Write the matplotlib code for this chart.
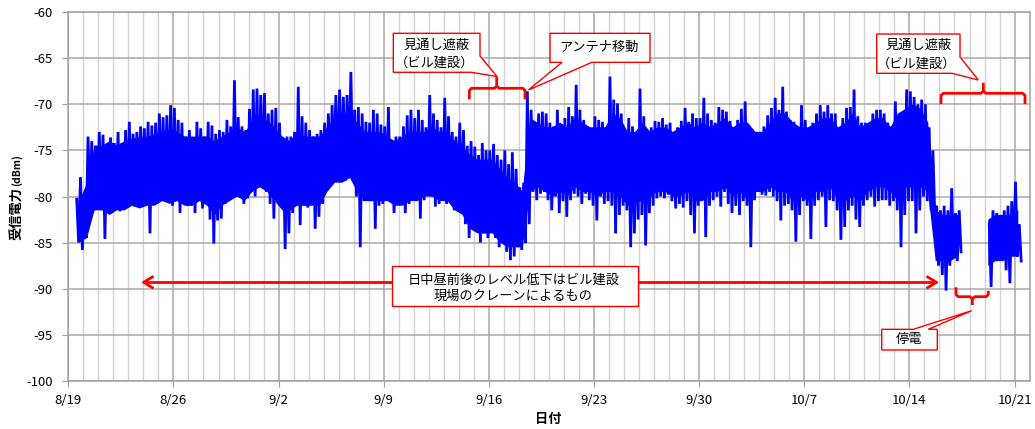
import numpy as np
import matplotlib
matplotlib.use("Agg")
import matplotlib.pyplot as plt
from matplotlib.lines import Line2D
from matplotlib.patches import Polygon

plt.rcParams['font.family'] = ['Noto Sans CJK JP', 'DejaVu Sans']

NA = np.nan
# ---- data: 6-hour slot peaks (hi) and dips (lo) of received power [dBm]
# first slot = 8/19 12:00, slot length 0.25 day
hi_aug = [-80.3, -77.9,
          -80.5, -73.5, -74.0, -74.5,  -73.0, -73.3, -74.5, -73.6,  -74.2, -73.0, -74.2, -72.8,
          -71.9, -73.2, -73.0, -72.4,  -72.6, -71.9, -72.3, -72.0,  -71.0, -71.4, -71.2, -70.1,
          -70.4, -71.7, -72.0, -73.5,  -72.8, -73.7, -71.9, -72.6,  -73.5, -71.9, -72.3, -73.2,
          -72.8, -73.0, -71.7, -72.4,  -67.4, -71.4, -72.4, -72.8,  -70.5, -68.4, -68.3, -69.0]
lo_aug = [-85.0, -85.8,
          -84.5, -81.0, -81.5, -80.5,  -80.5, -84.6, -81.8, -81.3,  -80.5, -81.6, -81.2, -80.4,
          -80.0, -81.1, -81.0, -79.8,  -80.4, -84.0, -80.5, -79.3,  -79.0, -79.5, -80.0, -81.0,
          -80.4, -81.8, -80.0, -81.0,  -81.0, -81.8, -80.0, -81.3,  -80.2, -82.5, -85.1, -82.6,
          -82.4, -80.8, -80.4, -79.8,  -80.0, -79.7, -80.8, -80.2,  -79.5, -80.0, -79.0, -78.5]
hi_sep_a = [-68.8, -71.0, -70.6, -70.4,  -72.0, -74.2, -73.5, -73.5,  -73.0, -68.1, -71.3, -72.0,
            -72.8, -73.5, -73.2, -72.8,  -72.0, -71.0, -70.1, -69.0,  -68.4, -69.2, -69.0, -66.5,
            -70.6, -70.3, -71.0, -71.9,  -72.0, -70.6, -71.0, -72.2,  -72.4, -70.3, -75.0, -73.5,
            -73.5, -72.4, -71.2, -70.6,  -71.5, -70.6, -71.7, -72.5,  -69.0, -71.0, -71.7, -72.5,
            -69.3, -71.3, -73.0, -73.5,  -72.0, -72.8, -74.5, -74.0,  -74.6, -75.5, -74.2, -75.0]
lo_sep_a = [-79.5, -80.8, -82.4, -80.0,  -81.0, -85.7, -84.0, -81.8,  -80.5, -83.1, -81.0, -81.2,
            -80.5, -83.5, -82.2, -80.8,  -79.3, -78.5, -77.5, -78.0,  -78.0, -78.3, -77.5, -78.0,
            -80.0, -85.5, -80.5, -80.4,  -80.5, -83.5, -81.0, -80.8,  -79.7, -80.5, -81.8, -80.5,
            -80.5, -81.8, -80.8, -80.2,  -80.0, -82.4, -80.4, -79.5,  -80.0, -81.1, -80.8, -80.0,
            -80.8, -80.2, -81.5, -80.5,  -81.0, -83.0, -84.5, -82.5,  -83.0, -85.0, -84.0, -84.5]
hi_sep_b = [-75.0, -74.3, -75.5, -76.0,  -75.0, -76.5, -75.2, -77.0,  -79.0, -78.5, -68.6, -70.6,
            -72.8, -71.0, -70.8, -71.0,  -72.0, -72.4, -70.6, -72.5,  -71.5, -70.3, -71.3, -67.9,
            -70.6, -71.7, -72.4, -72.8,  -71.3, -71.7, -71.9, -72.5,  -67.0, -69.5, -69.9, -71.0,
            -72.8, -71.5, -72.4, -73.0,  -68.3, -71.3, -73.2, -72.5,  -71.8, -71.9, -71.5, -72.2,
            -72.0, -73.5, -72.5, -71.8,  -70.4, -71.9, -71.0, -71.5,  -71.5, -69.3, -71.0, -71.7]
lo_sep_b = [-83.5, -84.5, -85.5, -85.0,  -86.0, -86.9, -86.5, -85.5,  -85.8, -85.0, -83.0, -79.5,
            -80.4, -79.7, -79.5, -80.4,  -81.5, -80.0, -81.8, -80.5,  -82.2, -80.4, -79.7, -80.0,
            -80.8, -79.7, -80.4, -81.0,  -82.6, -80.0, -80.8, -80.5,  -81.0, -84.0, -82.0, -81.0,
            -81.5, -85.5, -84.0, -82.5,  -82.0, -85.3, -81.8, -81.0,  -80.2, -80.0, -80.2, -79.8,
            -80.5, -81.3, -80.8, -81.2,  -80.5, -82.0, -84.0, -81.0,  -80.0, -84.4, -81.0, -80.4]
hi_oct_a = [-72.0, -70.3, -70.6, -70.8,  -71.8, -72.5, -71.7, -70.5,  -69.7, -72.4, -73.5, -73.0,
            -73.0, -72.4, -71.2, -70.4,  -69.3, -70.6, -68.1, -70.8,  -71.7, -71.9, -72.5, -70.1,
            -71.7, -72.8, -72.0, -71.0,  -70.1, -70.8, -70.1, -71.0,  -71.0, -73.0, -71.5, -70.4,
            -70.3, -68.4, -71.3, -72.0,  -72.0, -72.4, -71.0, -70.6,  -70.6, -71.0, -72.0, -72.4,
            -69.7, -71.0, -71.5, -68.4,  -68.6, -69.2, -70.0, -69.5,  -70.0, -72.5, -75.0, -81.0]
lo_oct_a = [-80.0, -81.1, -79.5, -80.8,  -81.8, -81.0, -82.0, -80.5,  -81.0, -85.5, -80.4, -79.5,
            -79.8, -79.9, -79.5, -80.0,  -80.5, -82.6, -81.0, -80.8,  -81.5, -84.9, -82.0, -80.5,
            -81.0, -84.6, -81.0, -80.4,  -80.0, -83.3, -80.4, -80.5,  -81.5, -84.7, -83.3, -81.5,
            -81.0, -82.5, -83.3, -81.0,  -80.4, -80.0, -81.1, -80.5,  -80.4, -80.4, -81.0, -80.5,
            -81.5, -85.5, -82.0, -80.5,  -80.5, -84.0, -81.5, -80.0,  -80.5, -81.5, -82.0, -87.5]
hi_oct_b = [-81.5, -81.0, -81.5, -79.1,  -81.8, -81.5, NA, NA,  NA, NA, NA, NA,
            NA, -83.0, -81.5, -81.8,  -82.0, -81.5, -81.0, -80.5,  -78.4, -83.0]
lo_oct_b = [-88.5, -90.2, -87.5, -86.5,  -87.0, -86.0, NA, NA,  NA, NA, NA, NA,
            NA, -89.8, -86.0, -85.5,  -86.0, -88.0, -89.4, -86.5,  -86.5, -87.0]

# dense core of the band (top / bottom), one value per half day, first = 8/19 12:00
core_top_aug = [-80.5, -78.5, -74.5, -74.5, -74.0, -74.5, -74.0, -73.8, -73.5, -73.5, -73.3,
                -73.0, -72.8, -73.0, -73.5, -73.5, -73.5, -73.5, -74.0, -73.5, -73.0, -72.5,
                -73.0, -72.0, -71.5]
core_bot_aug = [-85.0, -84.5, -81.5, -81.5, -82.0, -81.5, -81.5, -81.0, -81.3, -81.0, -81.0,
                -80.5, -80.8, -80.5, -81.0, -81.0, -80.5, -81.0, -82.0, -81.0, -80.5, -80.0,
                -80.5, -79.5, -79.0]
core_top_sep = [-71.8, -72.5, -73.5, -74.0, -73.0, -73.5, -73.5, -73.5, -72.5, -71.5,
                -71.0, -71.0, -72.0, -73.0, -73.0, -73.0, -73.5, -74.0, -73.5, -73.0,
                -73.0, -73.0, -72.5, -73.0, -73.0, -74.0, -74.5, -75.5, -76.0, -76.0,
                -76.0, -77.0, -78.0, -78.5, -79.5, -71.5, -72.0, -72.5, -72.5, -72.0,
                -72.5, -71.5, -72.0, -72.5, -72.5, -72.5, -71.0, -71.5, -73.0, -73.0,
                -72.0, -73.0, -72.5, -72.5, -73.0, -72.5, -72.0, -72.5, -72.0, -72.5]
core_bot_sep = [-79.5, -80.5, -81.5, -81.5, -81.0, -81.0, -81.0, -81.0, -79.5, -78.5,
                -78.5, -78.0, -79.5, -80.5, -80.5, -80.5, -80.5, -81.0, -81.0, -80.5,
                -80.5, -80.0, -80.0, -80.5, -80.5, -81.5, -82.0, -83.5, -84.0, -84.0,
                -84.0, -85.0, -85.5, -85.5, -85.5, -79.5, -79.0, -79.5, -80.0, -79.5,
                -80.0, -79.0, -79.5, -79.5, -80.0, -79.5, -79.5, -80.0, -81.0, -80.5,
                -80.5, -80.0, -79.5, -79.5, -80.0, -80.0, -79.5, -80.5, -80.5, -79.5]
core_top_oct = [-72.0, -71.5, -72.5, -72.0, -72.0, -73.0, -73.0, -72.0, -71.0, -71.0,
                -72.0, -72.5, -72.5, -72.0, -71.5, -71.5, -72.5, -72.0, -71.0, -72.5,
                -72.0, -71.5, -71.5, -72.5, -71.0, -70.5, -70.0, -70.5, -72.0, -81.5,
                -82.0, -82.0, -82.0, NA, NA, NA, -82.5, -82.0, -82.0, -82.0, -81.5]
core_bot_oct = [-79.5, -79.0, -80.0, -79.5, -80.5, -79.5, -79.5, -79.0, -79.5, -79.5,
                -80.5, -80.0, -80.5, -79.5, -79.5, -79.0, -80.5, -80.5, -80.0, -80.5,
                -79.5, -79.0, -79.0, -79.5, -80.5, -79.0, -79.0, -79.0, -79.5, -87.0,
                -87.0, -87.0, -86.5, NA, NA, NA, -87.5, -87.0, -87.0, -86.5, -86.5]

first_slot_day = 0.5          # 8/19 12:00, days counted from 8/19 00:00
slot_len = 0.25
core_len = 0.5
tick_days = [0, 7, 14, 21, 28, 35, 42, 49, 56, 63]
tick_labels = ['8/19', '8/26', '9/2', '9/9', '9/16', '9/23', '9/30', '10/7', '10/14', '10/21']
y_ticks = [-100, -95, -90, -85, -80, -75, -70, -65, -60]

hi = np.array(hi_aug + hi_sep_a + hi_sep_b + hi_oct_a + hi_oct_b)
lo = np.array(lo_aug + lo_sep_a + lo_sep_b + lo_oct_a + lo_oct_b)
t0 = first_slot_day + slot_len * np.arange(len(hi))
xs = np.column_stack([t0 + 1.5 / 24, t0 + 4.5 / 24]).ravel()
ys = np.column_stack([hi, lo]).ravel()

ctop = np.array(core_top_aug + core_top_sep + core_top_oct)
cbot = np.array(core_bot_aug + core_bot_sep + core_bot_oct)
tc = first_slot_day + core_len * np.arange(len(ctop)) + core_len / 2

# ---- figure
W, H = 1035, 429
fig = plt.figure(figsize=(W / 100, H / 100), dpi=100)
fig.patch.set_facecolor('white')
ax = fig.add_axes([68.3 / W, 1 - 381 / H, (1029.6 - 68.3) / W, (381 - 12) / H])
ax.fill_between(tc, ctop, cbot, color='#0000ff', lw=0, zorder=3)
ax.plot(xs, ys, color='#0000ff', lw=2.0, solid_joinstyle='miter', zorder=3)

ax.set_xlim(0, 64)
ax.set_ylim(-100, -60)
ax.set_xticks(tick_days)
ax.set_xticklabels(tick_labels)
ax.set_xticks(np.arange(0, 64, 1), minor=True)
ax.set_yticks(y_ticks)
ax.set_yticklabels([str(v) for v in y_ticks])
ax.grid(which='minor', axis='x', color='#d2d2d2', lw=1.0, zorder=0)
ax.grid(which='major', axis='both', color='#a9a9a9', lw=1.1, zorder=0)
ax.set_axisbelow(True)
ax.tick_params(which='major', direction='out', length=4, color='#a0a0a0', labelsize=9.5,
               labelcolor='black')
ax.tick_params(axis='x', which='major', pad=5)
ax.tick_params(axis='y', which='major', pad=7)
ax.tick_params(which='minor', length=0)
for s in ax.spines.values():
    s.set_color('#a0a0a0')
    s.set_linewidth(1.1)

# axis titles
fig.text(17 / W, 1 - 214 / H, '受信電力', rotation=90, ha='center', va='center',
         fontsize=9.5, fontweight='bold')
fig.text(17 / W, 1 - 170 / H, '(dBm)', rotation=90, ha='center', va='center',
         fontsize=7.5, fontweight='bold')
fig.text(548 / W, 1 - 419 / H, '日付', ha='center', va='center', fontsize=9.5, fontweight='bold')

# ---- annotations (pixel helper)
def P(pts):
    return [(x / W, 1 - y / H) for x, y in pts]

RED = '#ff0000'

def poly_line(pts, lw=2.0, z=6):
    p = P(pts)
    fig.add_artist(Line2D([a for a, b in p], [b for a, b in p], transform=fig.transFigure,
                          color=RED, lw=lw, solid_joinstyle='round', solid_capstyle='butt',
                          zorder=z))

def callout(pts):
    fig.add_artist(Polygon(P(pts), closed=True, transform=fig.transFigure, facecolor='white',
                           edgecolor=RED, lw=1.0, zorder=7))

def label(x, y, s, fs=9.5):
    fig.text(x / W, 1 - y / H, s, ha='center', va='center', fontsize=fs, zorder=8)

# brackets
poly_line([(469.3, 99.3), (469.3, 90.5), (471.5, 88.3), (494.5, 88.3), (496.7, 86), (496.7, 76.7)])
poly_line([(496.7, 86), (499, 88.3), (522.8, 88.3), (525, 90.5), (525, 99.3)])
poly_line([(941, 104), (941, 95.5), (943.3, 93.3), (981, 93.3), (983.3, 91), (983.3, 82.7)])
poly_line([(983.3, 91), (985.6, 93.3), (1022.8, 93.3), (1025, 95.5), (1025, 104)])
poly_line([(956, 287.3), (956, 294.5), (958.2, 296.7), (970, 296.7), (972.3, 299), (972.3, 305)])
poly_line([(972.3, 299), (974.6, 296.7), (986, 296.7), (988.3, 294.5), (988.3, 290.7)])

# double arrow
poly_line([(143.5, 282.3), (936.5, 282.3)], lw=2.0, z=5)
poly_line([(153.5, 276.3), (143.5, 282.3), (153.5, 288.3)], lw=2.0, z=5)
poly_line([(926.5, 276.3), (936.5, 282.3), (926.5, 288.3)], lw=2.0, z=5)

# callout boxes
callout([(393.3, 33.3), (480, 33.3), (480, 56), (497, 76.5), (471, 72.3), (393.3, 72.3)])
callout([(550, 33.3), (650, 33.3), (650, 62.3), (592, 62.3), (528.5, 90), (562, 62.3), (550, 62.3)])
callout([(876.7, 34), (960, 34), (960, 57), (978.3, 80), (952, 73.3), (876.7, 73.3)])
callout([(391.7, 266), (637.7, 266), (637.7, 306), (391.7, 306)])
callout([(881.7, 329.3), (913.3, 329.3), (971.7, 310.7), (928.3, 329.3), (937.3, 329.3),
         (937.3, 350), (881.7, 350)])

label(437, 45, '見通し遮蔽')
label(435, 63.3, '（ビル建設）')
label(599, 47, 'アンテナ移動')
label(919, 45.5, '見通し遮蔽')
label(917, 63.8, '（ビル建設）')
label(514, 280, '日中昼前後のレベル低下はビル建設')
label(513.5, 296.7, '現場のクレーンによるもの')
label(909, 340, '停電')

fig.savefig('out.png', dpi=100, facecolor='white')
